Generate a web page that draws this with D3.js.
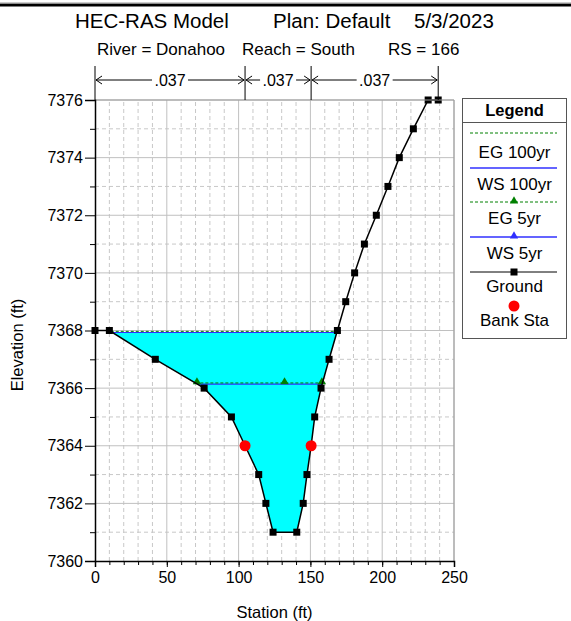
<!DOCTYPE html>
<html>
<head>
<meta charset="utf-8">
<script src="https://cdn.jsdelivr.net/npm/d3@7"></script>
<style>
  body { margin: 0; background: #fff; }
  text { font-family: Arial, "Liberation Sans", sans-serif; fill: #000; }
</style>
</head>
<body>
<svg id="chart" width="571" height="621"></svg>
<script>
// ground profile
var groundSta = [0, 10, 42, 76, 95, 104.5, 114, 119, 124, 140.5, 145, 147.6, 150.5, 153, 157.4, 163, 168.8, 174.6, 180.8, 187.6, 195.9, 204, 211.9, 221.7, 232, 239];
var groundElev = [7368, 7368, 7367, 7366, 7365, 7364, 7363, 7362, 7361, 7361, 7362, 7363, 7364, 7365, 7366, 7367, 7368, 7369, 7370, 7371, 7372, 7373, 7374, 7375, 7376, 7376];
var bankSta = [104.5, 150.5];
// manning's n regions
var nBreaks = [0, 104.5, 150.5, 239];
var nValues = [0.037, 0.037, 0.037];
// water surface profiles
var profiles = ["100yr", "5yr"];
var wsElev = [7367.93, 7366.14];
var egElev = [7367.97, 7366.18];
var eg5Marks = [71, 132, 158];
var xTicks = [0, 50, 100, 150, 200, 250];
var yTicks = [7360, 7362, 7364, 7366, 7368, 7370, 7372, 7374, 7376];
var titleParts = ["HEC-RAS Model", "Plan: Default", "5/3/2023"];
var subParts = ["River = Donahoo", "Reach = South", "RS = 166"];
var legendLabels = ["EG 100yr", "WS 100yr", "EG 5yr", "WS 5yr", "Ground", "Bank Sta"];

var svg = d3.select("#chart");
var x = d3.scaleLinear().domain([0, 250]).range([95, 454]);
var y = d3.scaleLinear().domain([7360, 7376]).range([561, 100]);
var blue = "#3030ff", green = "#008000";

svg.append("rect").attr("width", 571).attr("height", 621).attr("fill", "#fff");
svg.append("line").attr("x1", 0).attr("x2", 571).attr("y1", 5).attr("y2", 5)
    .attr("stroke", "#000").attr("stroke-width", 3);
svg.append("line").attr("x1", 0).attr("x2", 571).attr("y1", 3).attr("y2", 3)
    .attr("stroke", "#999").attr("stroke-width", 1);

// titles
var titleX = [75, 273, 414], subX = [97, 242, 388];
svg.selectAll(".title").data(titleParts).enter().append("text")
    .attr("x", function (d, i) { return titleX[i]; }).attr("y", 28)
    .attr("font-size", 20.5).text(function (d) { return d; });
svg.selectAll(".sub").data(subParts).enter().append("text")
    .attr("x", function (d, i) { return subX[i]; }).attr("y", 55)
    .attr("font-size", 17).text(function (d) { return d; });

// grid
var grid = svg.append("g");
grid.selectAll(".vmin").data(d3.range(10, 250, 10).filter(function (d) { return d % 50; }))
    .enter().append("line")
    .attr("x1", x).attr("x2", x).attr("y1", y(7360)).attr("y2", y(7376))
    .attr("stroke", "#c8c8c8").attr("stroke-dasharray", "4,3");
grid.selectAll(".hmin").data(d3.range(7361, 7376, 2))
    .enter().append("line")
    .attr("y1", y).attr("y2", y).attr("x1", x(0)).attr("x2", x(250))
    .attr("stroke", "#c8c8c8").attr("stroke-dasharray", "4,3");
grid.selectAll(".vmaj").data(xTicks.slice(1))
    .enter().append("line")
    .attr("x1", x).attr("x2", x).attr("y1", y(7360)).attr("y2", y(7376))
    .attr("stroke", "#c0c0c0");
grid.selectAll(".hmaj").data(yTicks.slice(1))
    .enter().append("line")
    .attr("y1", y).attr("y2", y).attr("x1", x(0)).attr("x2", x(250))
    .attr("stroke", "#c0c0c0");

// water fill for the big profile
function groundAt(s) {
    for (var i = 1; i < groundSta.length; i++) {
        if (s <= groundSta[i]) {
            var t = (s - groundSta[i - 1]) / (groundSta[i] - groundSta[i - 1]);
            return groundElev[i - 1] + t * (groundElev[i] - groundElev[i - 1]);
        }
    }
    return groundElev[groundElev.length - 1];
}
function wetEdges(ws) {
    var left = null, right = null;
    for (var i = 1; i < groundSta.length; i++) {
        var a = groundElev[i - 1], b = groundElev[i];
        if (left === null && a >= ws && b < ws)
            left = groundSta[i - 1] + (a - ws) / (a - b) * (groundSta[i] - groundSta[i - 1]);
        if (a < ws && b >= ws)
            right = groundSta[i - 1] + (ws - a) / (b - a) * (groundSta[i] - groundSta[i - 1]);
    }
    return [left, right];
}
var edges = wetEdges(wsElev[0]);
var poly = [[edges[0], wsElev[0]]];
groundSta.forEach(function (s, i) {
    if (s > edges[0] && s < edges[1]) poly.push([s, groundElev[i]]);
});
poly.push([edges[1], wsElev[0]]);
svg.append("path")
    .attr("d", d3.line().x(function (d) { return x(d[0]); }).y(function (d) { return y(d[1]); })(poly) + "Z")
    .attr("fill", "#00ffff");

// water surface and energy lines
profiles.forEach(function (p, i) {
    var e = wetEdges(wsElev[i]);
    svg.append("line").attr("x1", x(e[0])).attr("x2", x(e[1]))
        .attr("y1", y(wsElev[i])).attr("y2", y(wsElev[i]))
        .attr("stroke", blue).attr("stroke-width", 1.2);
    var g = wetEdges(egElev[i]);
    svg.append("line").attr("x1", x(g[0])).attr("x2", x(g[1]))
        .attr("y1", y(egElev[i])).attr("y2", y(egElev[i]))
        .attr("stroke", green).attr("stroke-width", 1).attr("stroke-dasharray", "3,2");
});
var tri = d3.symbol().type(d3.symbolTriangle).size(30);
svg.selectAll(".eg5").data(eg5Marks).enter().append("path")
    .attr("d", tri)
    .attr("transform", function (d) { return "translate(" + x(d) + "," + (y(egElev[1]) - 1) + ")"; })
    .attr("fill", green);

// ground
svg.append("path")
    .attr("d", d3.line().x(function (d) { return x(d); }).y(function (d, i) { return y(groundElev[i]); })(groundSta))
    .attr("fill", "none").attr("stroke", "#000").attr("stroke-width", 1.5);
svg.selectAll(".gpt").data(groundSta).enter().append("rect")
    .attr("x", function (d) { return x(d) - 3.5; })
    .attr("y", function (d, i) { return y(groundElev[i]) - 3.5; })
    .attr("width", 7).attr("height", 7).attr("fill", "#000");
svg.selectAll(".bank").data(bankSta).enter().append("circle")
    .attr("cx", x).attr("cy", function (d) { return y(groundAt(d)); })
    .attr("r", 5.5).attr("fill", "#ff0000");

// plot frame top/right
svg.append("line").attr("x1", x(0)).attr("x2", x(250)).attr("y1", y(7376)).attr("y2", y(7376))
    .attr("stroke", "#999");
svg.append("line").attr("x1", x(250)).attr("x2", x(250)).attr("y1", y(7376)).attr("y2", y(7360))
    .attr("stroke", "#999");

// axes
svg.append("g").attr("transform", "translate(0," + y(7360) + ")")
    .call(d3.axisBottom(x).tickValues(xTicks).tickSize(6).tickPadding(5).tickFormat(d3.format("d")));
svg.append("g").attr("transform", "translate(0," + y(7360) + ")")
    .call(d3.axisBottom(x).tickValues(d3.range(10, 250, 10)).tickSize(4).tickFormat(""))
    .select(".domain").remove();
svg.append("g").attr("transform", "translate(" + x(0) + ",0)")
    .call(d3.axisLeft(y).tickValues(yTicks).tickSize(10).tickPadding(2).tickFormat(d3.format("d")));
svg.append("g").attr("transform", "translate(" + x(0) + ",0)")
    .call(d3.axisLeft(y).tickValues(d3.range(7361, 7376, 2)).tickSize(5).tickFormat(""))
    .select(".domain").remove();
svg.selectAll(".tick text").attr("font-size", 16).attr("font-family", "Arial, 'Liberation Sans', sans-serif");
svg.selectAll(".domain").attr("stroke-width", 1.5);

svg.append("text").attr("x", x(125)).attr("y", 618).attr("text-anchor", "middle")
    .attr("font-size", 16.5).text("Station (ft)");
svg.append("text").attr("transform", "translate(23,345) rotate(-90)").attr("text-anchor", "middle")
    .attr("font-size", 16.5).text("Elevation (ft)");

// manning's n bar
var nY = 80;
svg.selectAll(".nbreak").data(nBreaks).enter().append("line")
    .attr("x1", x).attr("x2", x).attr("y1", 66).attr("y2", y(7376))
    .attr("stroke", "#000");
var nFmt = function (v) { return d3.format(".3f")(v).replace(/^0/, ""); };
nValues.forEach(function (v, i) {
    var x0 = x(nBreaks[i]), x1 = x(nBreaks[i + 1]), xm = (x0 + x1) / 2;
    var half = 18;
    svg.append("line").attr("x1", x0 + 1).attr("x2", xm - half).attr("y1", nY).attr("y2", nY).attr("stroke", "#000");
    svg.append("line").attr("x1", xm + half).attr("x2", x1 - 1).attr("y1", nY).attr("y2", nY).attr("stroke", "#000");
    svg.append("path").attr("d", "M" + (x0 + 7) + "," + (nY - 4) + "L" + (x0 + 1) + "," + nY + "L" + (x0 + 7) + "," + (nY + 4))
        .attr("fill", "none").attr("stroke", "#000");
    svg.append("path").attr("d", "M" + (x1 - 7) + "," + (nY - 4) + "L" + (x1 - 1) + "," + nY + "L" + (x1 - 7) + "," + (nY + 4))
        .attr("fill", "none").attr("stroke", "#000");
    svg.append("text").attr("x", xm).attr("y", nY + 6).attr("text-anchor", "middle")
        .attr("font-size", 16).text(nFmt(v));
});

// legend
var lg = svg.append("g");
lg.append("rect").attr("x", 462.5).attr("y", 98.5).attr("width", 104).attr("height", 240)
    .attr("fill", "#fff").attr("stroke", "#555");
lg.append("line").attr("x1", 462.5).attr("x2", 566.5).attr("y1", 122.5).attr("y2", 122.5).attr("stroke", "#555");
lg.append("text").attr("x", 514.5).attr("y", 116).attr("text-anchor", "middle")
    .attr("font-size", 16.5).attr("font-weight", "bold").text("Legend");
var rowY = [133, 168, 202, 237, 272, 306];
var textY = [158, 190, 224, 259, 292, 326];
legendLabels.forEach(function (lab, i) {
    var ly = rowY[i];
    if (i < 5) {
        var col = i === 4 ? "#000" : (i % 2 === 0 ? green : blue);
        lg.append("line").attr("x1", 470).attr("x2", 557).attr("y1", ly).attr("y2", ly)
            .attr("stroke", col).attr("stroke-width", i % 2 === 1 && i < 4 ? 1.5 : 1)
            .attr("stroke-dasharray", i % 2 === 0 && i < 4 ? "3,2" : null);
    }
    if (i === 2 || i === 3) {
        lg.append("path").attr("d", tri).attr("transform", "translate(514," + (ly - 1) + ")")
            .attr("fill", i === 2 ? green : blue);
    }
    if (i === 4) {
        lg.append("rect").attr("x", 510.5).attr("y", ly - 3.5).attr("width", 7).attr("height", 7).attr("fill", "#000");
    }
    if (i === 5) {
        lg.append("circle").attr("cx", 514).attr("cy", ly).attr("r", 5.5).attr("fill", "#ff0000");
    }
    lg.append("text").attr("x", 514.5).attr("y", textY[i]).attr("text-anchor", "middle")
        .attr("font-size", 17).text(lab);
});
</script>
</body>
</html>
